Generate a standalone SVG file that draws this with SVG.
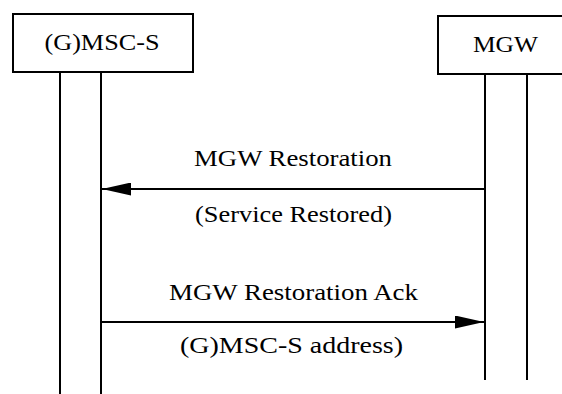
<svg xmlns="http://www.w3.org/2000/svg" width="562" height="394" viewBox="0 0 562 394">
<style>
.box{fill:#fff;stroke:#000;stroke-width:2}
.life{stroke:#000;stroke-width:2;fill:none}
.msg{stroke:#000;stroke-width:2;fill:none}
.t{font-family:'Liberation Serif','Times New Roman',serif;font-size:24px;fill:#000;text-anchor:middle}
</style>
<defs>
<marker id="ah" viewBox="0 0 29 13" refX="29" refY="6.5" markerWidth="29" markerHeight="13" markerUnits="userSpaceOnUse" orient="auto">
<path d="M0,0 L29,6.5 L0,13 Z" fill="#000"/>
</marker>
</defs>
<rect width="562" height="394" fill="#fff"/>
<g id="msc">
<rect class="box" x="13" y="14" width="180" height="58"/>
<text class="t" x="102" y="50" textLength="115" lengthAdjust="spacingAndGlyphs">(G)MSC-S</text>
<line class="life" x1="60" y1="72" x2="60" y2="394"/>
<line class="life" x1="101" y1="72" x2="101" y2="394"/>
</g>
<g id="mgw">
<rect class="box" x="438" y="16" width="130" height="58"/>
<text class="t" x="505.5" y="52" textLength="65" lengthAdjust="spacingAndGlyphs">MGW</text>
<line class="life" x1="485" y1="74" x2="485" y2="380"/>
<line class="life" x1="527" y1="74" x2="527" y2="380"/>
</g>
<g id="connectors">
<line class="msg" x1="485" y1="189" x2="102" y2="189" marker-end="url(#ah)"/>
<line class="msg" x1="101" y1="322" x2="484" y2="322" marker-end="url(#ah)"/>
<text class="t" x="293" y="166" textLength="198" lengthAdjust="spacingAndGlyphs">MGW Restoration</text>
<text class="t" x="293.5" y="222" textLength="197" lengthAdjust="spacingAndGlyphs">(Service Restored)</text>
<text class="t" x="293.5" y="300" textLength="249" lengthAdjust="spacingAndGlyphs">MGW Restoration Ack</text>
<text class="t" x="291.5" y="353" textLength="223" lengthAdjust="spacingAndGlyphs">(G)MSC-S address)</text>
</g>
</svg>
